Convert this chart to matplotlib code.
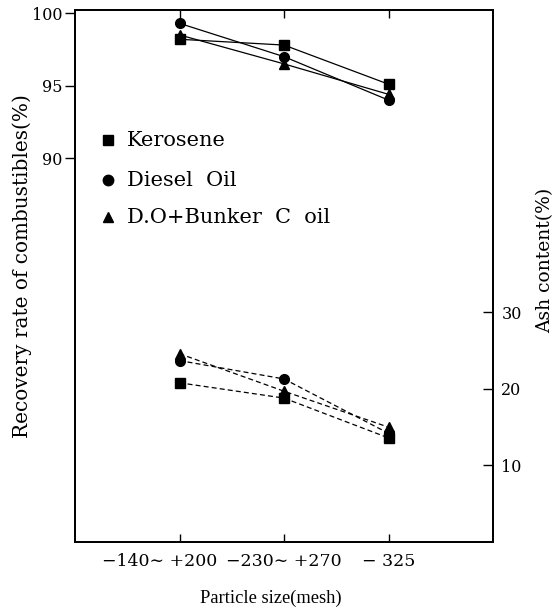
import matplotlib
matplotlib.use("Agg")
import matplotlib.pyplot as plt
import matplotlib.transforms as mtransforms

plt.rcParams['font.family'] = ['DejaVu Serif']

x_pos = [1, 2, 3]
x_labels = ["\u2212140\u223c +200", "\u2212230\u223c +270", "\u2212 325"]

# Recovery rate of combustibles (%) - left axis
rec_kerosene = [98.2, 97.8, 95.1]
rec_diesel = [99.3, 97.0, 94.0]
rec_do_bunker = [98.5, 96.5, 94.4]

# Ash content (%) - right axis
ash_kerosene = [20.8, 18.8, 13.6]
ash_diesel = [23.7, 21.3, 14.2]
ash_do_bunker = [24.6, 19.7, 15.0]

series_names = ["Kerosene", "Diesel  Oil", "D.O+Bunker  C  oil"]

W, H = 559, 611
fig = plt.figure(figsize=(W/100, H/100), dpi=100)
ax = fig.add_axes([75/W, 1-542/H, (493-75)/W, (542-10)/H])
ax2 = ax.twinx()

lw = 0.9
ax.plot(x_pos, rec_kerosene, color='black', lw=lw, marker='s', ms=6.5)
ax.plot(x_pos, rec_diesel, color='black', lw=lw, marker='o', ms=7)
ax.plot(x_pos, rec_do_bunker, color='black', lw=lw, marker='^', ms=7)

ax2.plot(x_pos, ash_kerosene, color='black', lw=lw, ls=(0, (4, 2.5)), marker='s', ms=6.5)
ax2.plot(x_pos, ash_diesel, color='black', lw=lw, ls=(0, (4, 2.5)), marker='o', ms=7)
ax2.plot(x_pos, ash_do_bunker, color='black', lw=lw, ls=(0, (4, 2.5)), marker='^', ms=7)

ax.set_xlim(0, 4)
ax.set_ylim(63.5, 100.22)
ax2.set_ylim(0, 69.5)

ax.set_yticks([90, 95, 100])
ax2.set_yticks([10, 20, 30])
ax.set_xticks(x_pos)
ax.set_xticklabels(x_labels, fontsize=12.5)

ax.tick_params(axis='y', direction='out', length=7, width=1, labelsize=11.5, pad=2)
ax.tick_params(axis='x', direction='in', length=6, width=1, top=True, pad=8)
ax2.tick_params(axis='y', direction='in', length=7, width=1, labelsize=11.5, pad=6)

# shift first x tick label slightly left as in reference
lbls = ax.get_xticklabels()
lbls[0].set_transform(lbls[0].get_transform() + mtransforms.ScaledTranslation(-20/100, 0, fig.dpi_scale_trans))

for a in (ax, ax2):
    for s in a.spines.values():
        s.set_linewidth(1.3)

fig.text(22/W, 1-266/H, "Recovery rate of combustibles(%)", rotation=90,
         ha='center', va='center', fontsize=14.4)
fig.text(545/W, 1-260/H, "Ash content(%)", rotation=90,
         ha='center', va='center', fontsize=13.5)
fig.text(271/W, 1-598/H, "Particle size(mesh)", ha='center', va='center',
         fontsize=13.3, family='Liberation Serif')

# legend (manual, as in reference)
legend_markers = ['s', 'o', '^']
legend_y = [0.755, 0.68, 0.61]
for m, yy, name in zip(legend_markers, legend_y, series_names):
    ax.plot([0.08], [yy], transform=ax.transAxes, marker=m, color='black', ms=7.5, ls='none', clip_on=False)
    ax.text(0.125, yy, name, transform=ax.transAxes, fontsize=15, va='center', ha='left')

fig.savefig("out.png", dpi=100)
